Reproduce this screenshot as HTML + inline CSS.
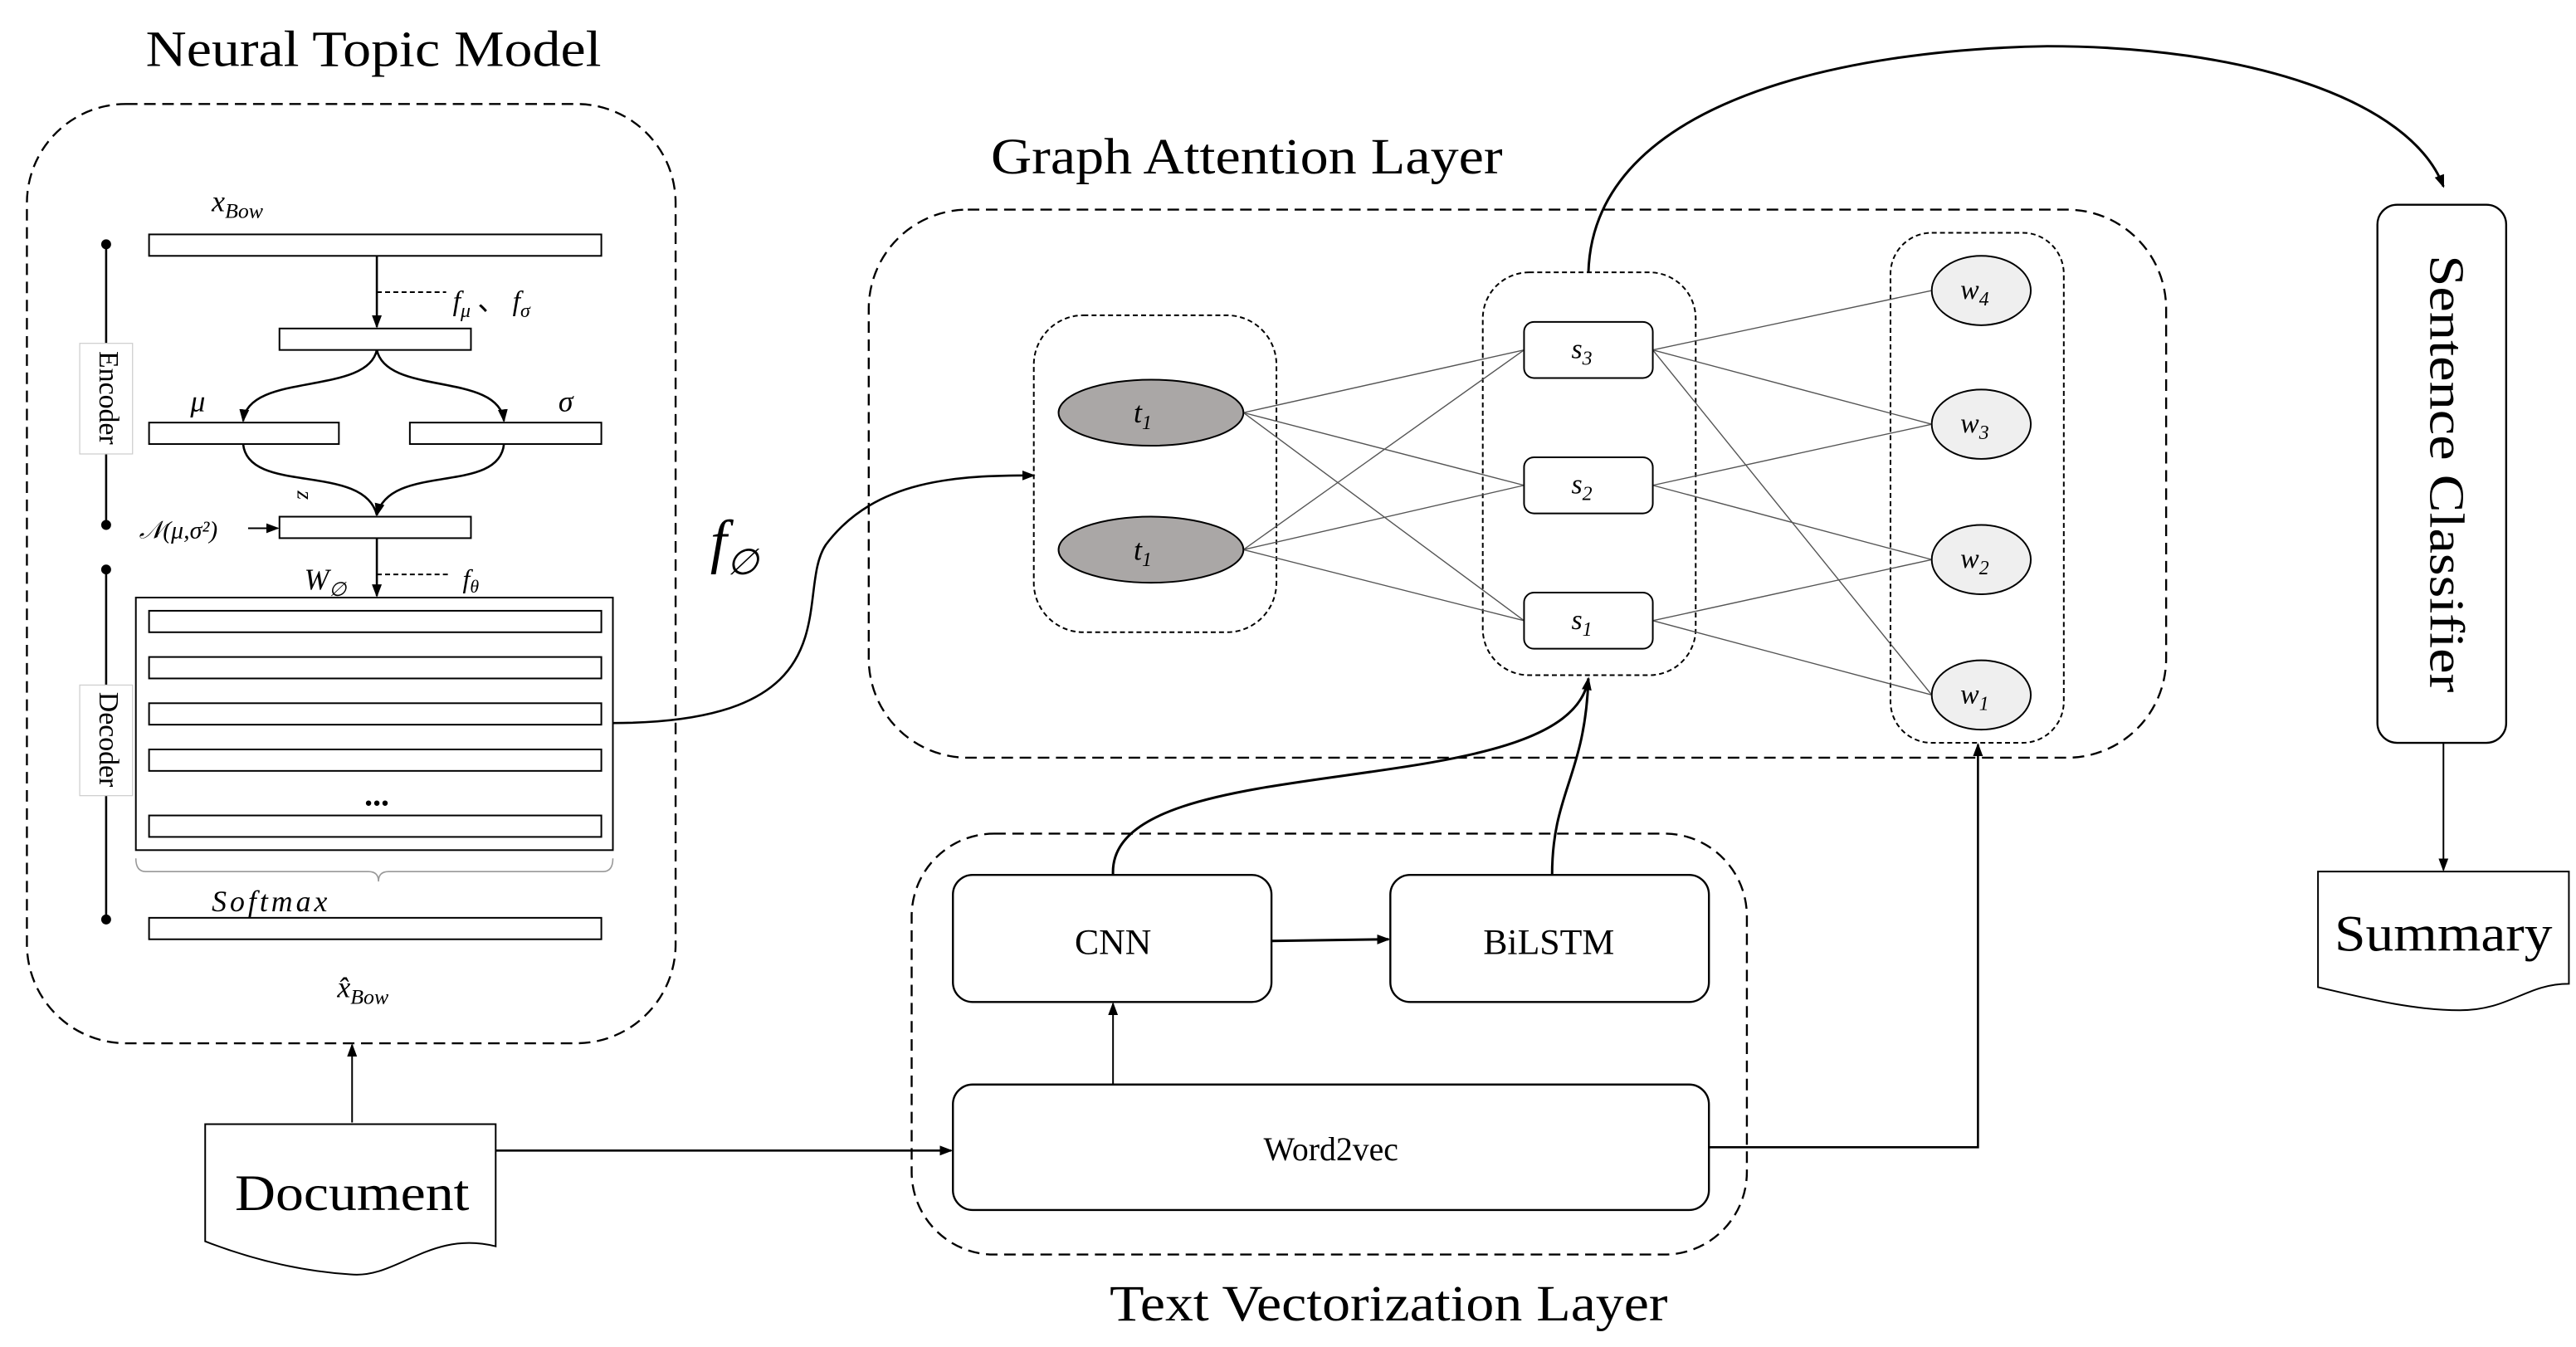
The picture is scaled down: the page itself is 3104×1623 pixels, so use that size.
<!DOCTYPE html>
<html><head><meta charset="utf-8"><style>
html,body{margin:0;padding:0;background:#fff;}
svg{display:block;}
text{font-family:"Liberation Serif",serif;fill:#000;}
</style></head><body>
<svg width="3104" height="1623" viewBox="0 0 1560 816" xmlns="http://www.w3.org/2000/svg">
<defs>
<marker id="a" markerWidth="8" markerHeight="8" refX="7" refY="4" orient="auto" markerUnits="userSpaceOnUse"><path d="M0,1 L8,4 L0,7 z" fill="#000"/></marker>
</defs>
<g fill="none" stroke="#000">
<rect x="16" y="63" width="393" height="569" rx="60" stroke-dasharray="7,4" stroke-width="1.2"/>
<rect x="90" y="142" width="274" height="13"/>
<rect x="169" y="199" width="116" height="13"/>
<rect x="90" y="256" width="115" height="13"/>
<rect x="248" y="256" width="116" height="13"/>
<rect x="169" y="313" width="116" height="13"/>
<rect x="82" y="362" width="289" height="153"/>
<rect x="90" y="370" width="274" height="13"/>
<rect x="90" y="398" width="274" height="13"/>
<rect x="90" y="426" width="274" height="13"/>
<rect x="90" y="454" width="274" height="13"/>
<rect x="90" y="494" width="274" height="13"/>
<rect x="90" y="556" width="274" height="13"/>
<line x1="228" y1="155" x2="228" y2="198" marker-end="url(#a)" stroke-width="1.3"/>
<line x1="228" y1="177" x2="270" y2="177" stroke-dasharray="3,2"/>
<line x1="228" y1="326" x2="228" y2="361" marker-end="url(#a)" stroke-width="1.3"/>
<line x1="228" y1="348" x2="272" y2="348" stroke-dasharray="3,2"/>
<path d="M228,212 C222,240 150,225 147,255" marker-end="url(#a)" stroke-width="1.3"/>
<path d="M228,212 C234,240 302,225 305,255" marker-end="url(#a)" stroke-width="1.3"/>
<path d="M147,269 C150,300 220,280 228,312" stroke-width="1.3"/>
<path d="M305,269 C302,300 236,280 228,312" marker-end="url(#a)" stroke-width="1.3"/>
<line x1="150" y1="320" x2="168" y2="320" marker-end="url(#a)"/>
<path d="M82,520 q0,8 6,8 l135,0 q6,0 6,6 q0,-6 6,-6 l130,0 q6,0 6,-8" stroke="#999" stroke-width="0.8"/>
<line x1="64" y1="148" x2="64" y2="318" stroke-width="1.3"/>
<line x1="64" y1="345" x2="64" y2="557" stroke-width="1.3"/>
<line x1="213" y1="680" x2="213" y2="633" marker-end="url(#a)"/>
<path d="M124,681 L300,681 L300,755 C260,745 240,775 212,772 C180,770 150,762 124,752 Z"/>
<line x1="300" y1="697" x2="576" y2="697" marker-end="url(#a)" stroke-width="1.3"/>
<rect x="552" y="505" width="506" height="255" rx="50" stroke-dasharray="7,4" stroke-width="1.2"/>
<rect x="577" y="530" width="193" height="77" rx="12" stroke-width="1.2"/>
<rect x="842" y="530" width="193" height="77" rx="12" stroke-width="1.2"/>
<rect x="577" y="657" width="458" height="76" rx="12" stroke-width="1.2"/>
<line x1="770" y1="570" x2="841" y2="569" marker-end="url(#a)" stroke-width="1.5"/>
<line x1="674" y1="657" x2="674" y2="608" marker-end="url(#a)"/>
<path d="M1035,695 L1198,695 L1198,451" marker-end="url(#a)" stroke-width="1.3"/>
<path d="M674,530 C670,450 950,490 962,411" marker-end="url(#a)" stroke-width="1.5"/>
<path d="M940,530 C940,480 960,470 962,411" stroke-width="1.5"/>
<path d="M371,438 C520,438 480,360 500,330 C530,290 580,288 626,288" marker-end="url(#a)" stroke-width="1.3"/>
<rect x="526" y="127" width="786" height="332" rx="60" stroke-dasharray="7,4" stroke-width="1.2"/>
<rect x="626" y="191" width="147" height="192" rx="30" stroke-dasharray="3,2"/>
<rect x="898" y="165" width="129" height="244" rx="28" stroke-dasharray="3,2"/>
<rect x="1145" y="141" width="105" height="309" rx="25" stroke-dasharray="3,2"/>
<g stroke="#555" stroke-width="0.7">
<line x1="753" y1="250" x2="923" y2="212"/><line x1="753" y1="250" x2="923" y2="294"/><line x1="753" y1="250" x2="923" y2="376"/>
<line x1="753" y1="333" x2="923" y2="212"/><line x1="753" y1="333" x2="923" y2="294"/><line x1="753" y1="333" x2="923" y2="376"/>
<line x1="1001" y1="212" x2="1170" y2="176"/><line x1="1001" y1="212" x2="1170" y2="257"/><line x1="1001" y1="212" x2="1170" y2="421"/>
<line x1="1001" y1="294" x2="1170" y2="257"/><line x1="1001" y1="294" x2="1170" y2="339"/>
<line x1="1001" y1="376" x2="1170" y2="339"/><line x1="1001" y1="376" x2="1170" y2="421"/>
</g>
<ellipse cx="697" cy="250" rx="56" ry="20" fill="#aaa7a6"/>
<ellipse cx="697" cy="333" rx="56" ry="20" fill="#aaa7a6"/>
<rect x="923" y="195" width="78" height="34" rx="6" fill="#fff"/>
<rect x="923" y="277" width="78" height="34" rx="6" fill="#fff"/>
<rect x="923" y="359" width="78" height="34" rx="6" fill="#fff"/>
<ellipse cx="1200" cy="176" rx="30" ry="21" fill="#efefef"/>
<ellipse cx="1200" cy="257" rx="30" ry="21" fill="#efefef"/>
<ellipse cx="1200" cy="339" rx="30" ry="21" fill="#efefef"/>
<ellipse cx="1200" cy="421" rx="30" ry="21" fill="#efefef"/>
<path d="M962,165 C965,60 1120,30 1240,28 C1360,28 1460,60 1480,113" marker-end="url(#a)" stroke-width="1.5"/>
<rect x="1440" y="124" width="78" height="326" rx="12" stroke-width="1.2"/>
<line x1="1480" y1="450" x2="1480" y2="527" marker-end="url(#a)"/>
<path d="M1404,528 L1556,528 L1556,596 C1530,596 1520,612 1490,612 C1460,612 1430,604 1404,598 Z"/>
</g>
<rect x="48" y="208" width="32" height="67" fill="#fff" stroke="#ccc" stroke-width="0.6"/>
<rect x="48" y="415" width="32" height="67" fill="#fff" stroke="#ccc" stroke-width="0.6"/>
<circle cx="64" cy="148" r="3"/><circle cx="64" cy="318" r="3"/><circle cx="64" cy="345" r="3"/><circle cx="64" cy="557" r="3"/>
<text x="64" y="241" font-size="17" transform="rotate(90 64 241)" text-anchor="middle" dominant-baseline="middle">Encoder</text>
<text x="64" y="448" font-size="17" transform="rotate(90 64 448)" text-anchor="middle" dominant-baseline="middle">Decoder</text>
<text x="88" y="40" font-size="31" textLength="276" lengthAdjust="spacingAndGlyphs">Neural Topic Model</text>
<text x="600" y="105" font-size="31" textLength="310" lengthAdjust="spacingAndGlyphs">Graph Attention Layer</text>
<text x="672" y="800" font-size="31" textLength="338" lengthAdjust="spacingAndGlyphs">Text Vectorization Layer</text>
<text x="128" y="128" font-size="18" font-style="italic">x<tspan font-size="13" dy="4">Bow</tspan></text>
<text x="274" y="188" font-size="17" font-style="italic">f<tspan font-size="12" dy="4">μ</tspan><tspan dy="-4" font-style="normal"> 、 </tspan>f<tspan font-size="12" dy="4">σ</tspan></text>
<text x="115" y="249" font-size="18" font-style="italic">μ</text>
<text x="338" y="249" font-size="18" font-style="italic">σ</text>
<text x="180" y="300" font-size="14" font-style="italic" transform="rotate(90 180 300)" text-anchor="middle">z</text>
<text x="84" y="326" font-size="15" font-style="italic">𝒩(μ,σ²)</text>
<text x="184" y="357" font-size="18" font-style="italic">W<tspan font-size="12" dy="4">∅</tspan></text>
<text x="280" y="356" font-size="16" font-style="italic">f<tspan font-size="11" dy="3">θ</tspan></text>
<text x="228" y="488" font-size="20" font-weight="bold" text-anchor="middle">...</text>
<text x="128" y="552" font-size="18" font-style="italic" letter-spacing="2">Softmax</text>
<text x="204" y="604" font-size="18" font-style="italic">x̂<tspan font-size="13" dy="4">Bow</tspan></text>
<text x="430" y="340" font-size="36" font-style="italic">f<tspan font-size="22" dy="8">∅</tspan></text>
<text x="142" y="733" font-size="31" textLength="142" lengthAdjust="spacingAndGlyphs">Document</text>
<text x="1414" y="576" font-size="31" textLength="132" lengthAdjust="spacingAndGlyphs">Summary</text>
<text x="1479" y="287" font-size="30" transform="rotate(90 1479 287)" text-anchor="middle" dominant-baseline="middle" textLength="265" lengthAdjust="spacingAndGlyphs">Sentence Classifier</text>
<text x="674" y="578" font-size="22" text-anchor="middle">CNN</text>
<text x="938" y="578" font-size="22" text-anchor="middle">BiLSTM</text>
<text x="806" y="703" font-size="20" text-anchor="middle">Word2vec</text>
<text x="692" y="256" font-size="18" font-style="italic" text-anchor="middle">t<tspan font-size="12" dy="4">1</tspan></text>
<text x="692" y="339" font-size="18" font-style="italic" text-anchor="middle">t<tspan font-size="12" dy="4">1</tspan></text>
<text x="958" y="217" font-size="17" font-style="italic" text-anchor="middle">s<tspan font-size="12" dy="4">3</tspan></text>
<text x="958" y="299" font-size="17" font-style="italic" text-anchor="middle">s<tspan font-size="12" dy="4">2</tspan></text>
<text x="958" y="381" font-size="17" font-style="italic" text-anchor="middle">s<tspan font-size="12" dy="4">1</tspan></text>
<text x="1196" y="181" font-size="17" font-style="italic" text-anchor="middle">w<tspan font-size="12" dy="4">4</tspan></text>
<text x="1196" y="262" font-size="17" font-style="italic" text-anchor="middle">w<tspan font-size="12" dy="4">3</tspan></text>
<text x="1196" y="344" font-size="17" font-style="italic" text-anchor="middle">w<tspan font-size="12" dy="4">2</tspan></text>
<text x="1196" y="426" font-size="17" font-style="italic" text-anchor="middle">w<tspan font-size="12" dy="4">1</tspan></text>
</svg>
</body></html>
